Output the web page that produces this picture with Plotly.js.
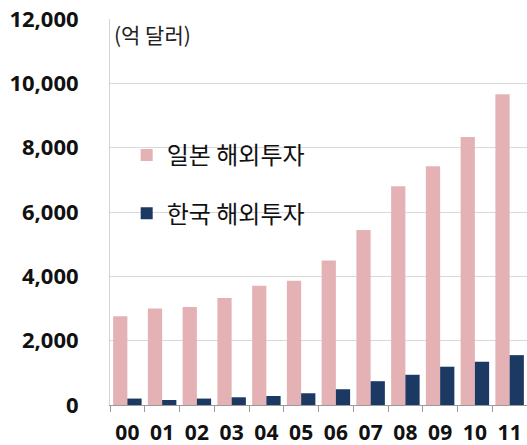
<!DOCTYPE html>
<html>
<head>
<meta charset="utf-8">
<script src="https://cdn.plot.ly/plotly-3.0.1.min.js"></script>
<style>
  html, body { margin: 0; padding: 0; background: #ffffff; }
  #chart { width: 527px; height: 445px; }
</style>
</head>
<body>
<div id="chart"></div>
<script>
const years = ['00', '01', '02', '03', '04', '05', '06', '07', '08', '09', '10', '11'];
const japanInvest = [2760, 3000, 3050, 3330, 3710, 3860, 4490, 5440, 6800, 7420, 8330, 9660];
const koreaInvest = [200, 155, 200, 240, 280, 365, 490, 740, 940, 1190, 1345, 1550];
const seriesNames = ['일본 해외투자', '한국 해외투자'];
const unitLabel = '(억 달러)';

const traces = [
  {
    type: 'bar', x: years, y: japanInvest, name: seriesNames[0], legendgroup: 'a',
    marker: { color: '#E4B2B4', line: { width: 0 } }, hoverinfo: 'x+y'
  },
  {
    type: 'bar', x: years, y: koreaInvest, name: seriesNames[1], legendgroup: 'b',
    marker: { color: '#1B3962', line: { width: 0 } }, hoverinfo: 'x+y'
  }
];

const layout = {
  width: 527, height: 445,
  margin: { l: 110, r: 0, t: 19, b: 40, pad: 0 },
  paper_bgcolor: '#ffffff', plot_bgcolor: '#ffffff',
  barmode: 'group', bargap: 0.18, bargroupgap: 0,
  font: { family: '"Noto Sans CJK KR", "Noto Sans", sans-serif', color: '#111111' },
  xaxis: {
    type: 'category',
    showline: true, linecolor: '#9a9a9a', linewidth: 1,
    ticks: 'outside', tickson: 'boundaries', ticklen: 6, tickcolor: '#9a9a9a', tickwidth: 1,
    ticklabelstandoff: 9,
    tickfont: { family: '"Noto Sans", sans-serif', size: 21, color: '#111111', weight: 'bold' },
    showgrid: false, zeroline: false, fixedrange: true
  },
  yaxis: {
    range: [0, 12000], dtick: 2000, tick0: 0, tickformat: ',d',
    showgrid: true, gridcolor: '#d9d9d9', gridwidth: 1,
    showline: true, linecolor: '#d4d4d4', linewidth: 1,
    zeroline: false, ticks: '',
    ticklabelstandoff: 26,
    tickfont: { family: '"Noto Sans", sans-serif', size: 22, color: '#111111', weight: 'bold' },
    fixedrange: true
  },
  showlegend: true,
  legend: {
    x: 0.04, y: 0.705, xanchor: 'left', yanchor: 'top',
    bgcolor: 'rgba(0,0,0,0)', borderwidth: 0,
    traceorder: 'grouped', tracegroupgap: 24, itemwidth: 30,
    font: { family: '"Noto Sans CJK KR", sans-serif', size: 24, color: '#111111' }
  },
  annotations: [
    {
      text: unitLabel, xref: 'paper', yref: 'paper', x: 0, y: 0.961,
      xanchor: 'left', yanchor: 'middle', xshift: 2, showarrow: false,
      font: { family: '"Noto Sans CJK KR", sans-serif', size: 21, color: '#222222' }
    }
  ]
};

Plotly.newPlot('chart', traces, layout, { displayModeBar: false, staticPlot: true });
</script>
</body>
</html>
